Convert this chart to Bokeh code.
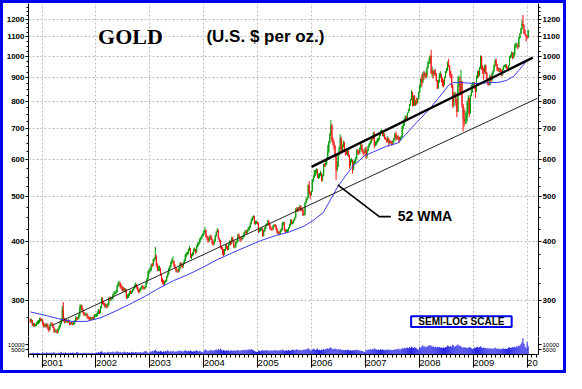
import numpy as np
import pandas as pd
from bokeh.plotting import figure
from bokeh.layouts import column
from bokeh.models import (Range1d, FixedTicker, LogAxis, LinearAxis, Grid, Label,
                          BoxAnnotation, ColumnDataSource)
from bokeh.embed import file_html
from bokeh.resources import INLINE

# ---------------- data (weekly, Fridays, from 2000-10-13) ----------------
FIRST_DATE = "2000-10-13"
first_open = 273

close_2000 = [270, 271, 265,
              266, 265, 265, 267,
              269, 269, 273, 272, 272]
high_2000 = [274, 274, 272,
             268, 268, 267, 269,
             271, 272, 275, 275, 274]
low_2000 = [268, 268, 264,
            263, 263, 263, 264,
            266, 266, 268, 270, 270]

close_2001 = [268, 264, 265, 264,
              266, 262, 259, 264,
              267, 266, 262, 257, 258,
              258, 256, 260, 263,
              268, 272, 286, 273,
              270, 272, 271, 270, 271,
              268, 267, 268, 267,
              267, 270, 275, 273, 274,
              279, 289, 292, 287,
              282, 279, 280, 280,
              277, 275, 273, 275, 274,
              275, 274, 278, 278]
high_2001 = [273, 269, 267, 267,
             268, 267, 263, 266,
             269, 269, 267, 263, 260,
             260, 259, 262, 265,
             270, 274, 292, 297,
             275, 274, 273, 272, 273,
             271, 269, 270, 269,
             269, 272, 277, 276, 276,
             280, 293, 294, 293,
             288, 283, 282, 282,
             281, 278, 276, 277, 276,
             276, 277, 280, 280]
low_2001 = [265, 262, 262, 262,
            262, 259, 256, 258,
            263, 264, 261, 255, 256,
            255, 254, 255, 259,
            262, 266, 270, 270,
            267, 268, 269, 268, 268,
            265, 265, 266, 265,
            265, 266, 269, 271, 272,
            273, 276, 285, 285,
            280, 277, 277, 278,
            274, 273, 271, 272, 272,
            272, 272, 273, 276]

close_2002 = [279, 281, 285, 282,
              289, 302, 296, 294,
              292, 292, 291, 293, 302,
              301, 302, 302, 308,
              310, 311, 312, 321, 326,
              326, 321, 320, 315,
              318, 314, 315, 304,
              305, 307, 312, 311, 312,
              315, 318, 322, 323,
              320, 315, 312, 316,
              318, 321, 319, 318, 320,
              326, 333, 345, 347]
high_2002 = [281, 284, 287, 286,
             291, 304, 304, 298,
             296, 295, 294, 296, 304,
             305, 305, 305, 310,
             313, 314, 315, 323, 328,
             330, 328, 324, 322,
             320, 319, 318, 317,
             309, 310, 314, 315, 314,
             317, 320, 324, 327,
             325, 321, 317, 318,
             320, 323, 323, 320, 322,
             328, 335, 347, 350]
low_2002 = [276, 277, 280, 280,
            281, 288, 294, 292,
            289, 289, 288, 289, 292,
            298, 299, 300, 301,
            306, 308, 309, 311, 320,
            322, 318, 316, 313,
            313, 312, 311, 302,
            302, 303, 306, 309, 309,
            311, 314, 317, 319,
            317, 313, 310, 311,
            314, 317, 316, 316, 316,
            318, 325, 332, 341]

close_2003 = [348, 357, 356, 366, 368,
              372, 357, 350, 350,
              350, 340, 331, 330,
              327, 327, 330, 336,
              341, 350, 353, 361, 363,
              364, 356, 353, 347,
              348, 346, 352, 360,
              357, 354, 360, 365, 375,
              377, 378, 384, 388,
              372, 375, 377, 384, 386,
              380, 391, 395, 398,
              405, 408, 412, 415]
high_2003 = [352, 359, 360, 368, 370,
             390, 375, 360, 355,
             356, 352, 342, 334,
             331, 330, 332, 338,
             344, 352, 356, 363, 368,
             372, 365, 358, 352,
             351, 349, 354, 362,
             361, 359, 362, 367, 377,
             380, 381, 387, 392,
             388, 377, 380, 387, 389,
             386, 393, 398, 400,
             407, 410, 414, 418]
low_2003 = [344, 346, 353, 355, 363,
            366, 354, 346, 346,
            346, 338, 328, 325,
            322, 323, 326, 329,
            335, 340, 348, 352, 358,
            360, 354, 350, 344,
            344, 343, 344, 349,
            354, 351, 352, 358, 364,
            370, 374, 376, 382,
            369, 367, 372, 374, 381,
            376, 379, 389, 392,
            396, 402, 405, 410]

close_2004 = [420, 423, 410, 409, 401,
              405, 411, 405, 397,
              396, 401, 412, 420,
              423, 407, 403, 390, 388,
              383, 377, 383, 393,
              390, 385, 395, 400,
              396, 408, 402, 391, 391,
              399, 401, 414, 410,
              406, 405, 409, 410,
              418, 421, 418, 424, 425,
              430, 437, 446, 451,
              454, 438, 440, 441, 438]
high_2004 = [424, 430, 425, 413, 412,
             409, 414, 414, 407,
             401, 405, 414, 422,
             428, 425, 408, 404, 392,
             390, 386, 386, 395,
             396, 392, 397, 403,
             402, 410, 410, 403, 394,
             402, 404, 416, 417,
             411, 408, 411, 414,
             420, 424, 423, 426, 430,
             433, 440, 448, 453,
             456, 455, 444, 444, 442]
low_2004 = [413, 418, 408, 404, 398,
            400, 403, 404, 395,
            392, 394, 400, 410,
            419, 405, 399, 387, 385,
            375, 372, 375, 382,
            386, 383, 384, 393,
            393, 395, 400, 388, 387,
            389, 396, 400, 408,
            400, 401, 403, 406,
            409, 416, 415, 416, 421,
            423, 428, 436, 443,
            448, 436, 435, 437, 435]

close_2005 = [422, 424, 425, 427,
              412, 422, 427, 433,
              436, 443, 437, 428,
              427, 425, 432, 435, 434,
              426, 418, 419, 417,
              422, 424, 438, 439,
              424, 421, 421, 424, 428,
              433, 445, 438, 440,
              445, 450, 470, 466, 473,
              469, 477, 467, 470,
              456, 458, 485, 493,
              498, 529, 510, 505, 513]
high_2005 = [440, 427, 428, 429,
             428, 424, 430, 436,
             439, 446, 445, 438,
             432, 429, 434, 437, 437,
             435, 428, 422, 421,
             425, 428, 441, 442,
             441, 426, 425, 426, 430,
             437, 447, 447, 443,
             447, 452, 472, 474, 475,
             475, 480, 478, 474,
             472, 461, 487, 496,
             500, 531, 540, 512, 515]
low_2005 = [418, 419, 421, 423,
            410, 411, 420, 425,
            432, 435, 433, 425,
            423, 422, 424, 430, 430,
            423, 416, 414, 413,
            415, 420, 423, 434,
            421, 417, 418, 419, 421,
            427, 432, 436, 436,
            438, 444, 450, 464, 464,
            464, 468, 465, 465,
            455, 454, 457, 483,
            490, 496, 505, 494, 502]

close_2006 = [542, 548, 567, 568,
              572, 550, 554, 558,
              562, 545, 555, 586, 583,
              589, 600, 625, 654,
              680, 711, 662, 652,
              643, 610, 570, 580, 616,
              634, 666, 625, 640,
              652, 630, 622, 620,
              626, 614, 584, 598, 599,
              575, 591, 595, 604,
              628, 624, 621, 636,
              646, 629, 624, 621, 632]
high_2006 = [545, 555, 570, 571,
             575, 573, 560, 562,
             568, 563, 558, 588, 590,
             600, 607, 645, 658,
             684, 730, 715, 670,
             660, 645, 620, 595, 617,
             640, 680, 672, 647,
             660, 656, 632, 628,
             630, 627, 615, 602, 605,
             600, 596, 600, 608,
             632, 632, 628, 638,
             650, 648, 633, 625, 636]
low_2006 = [515, 537, 548, 553,
            560, 548, 545, 548,
            553, 538, 540, 553, 578,
            580, 585, 600, 620,
            650, 675, 655, 643,
            630, 605, 543, 566, 578,
            612, 632, 618, 622,
            638, 625, 612, 614,
            612, 608, 574, 580, 592,
            560, 570, 587, 590,
            602, 617, 614, 618,
            630, 624, 616, 612, 619]

close_2007 = [612, 627, 640, 648,
              653, 666, 665, 684,
              645, 653, 655, 663, 664,
              677, 690, 692, 676,
              677, 670, 665, 656,
              664, 653, 658, 654, 650,
              658, 667, 682, 667,
              673, 670, 659, 670, 672,
              708, 711, 732, 743,
              740, 756, 763, 788,
              807, 834, 783, 822, 784,
              798, 795, 812, 838]
high_2007 = [640, 630, 643, 651,
             658, 670, 672, 687,
             690, 657, 660, 668, 669,
             680, 694, 697, 693,
             686, 684, 671, 664,
             674, 669, 662, 659, 657,
             660, 669, 685, 690,
             677, 677, 672, 672, 676,
             709, 718, 737, 747,
             744, 757, 770, 789,
             810, 845, 840, 824, 826,
             806, 815, 814, 840]
low_2007 = [603, 604, 625, 637,
            643, 650, 659, 663,
            636, 641, 644, 650, 656,
            661, 674, 686, 674,
            672, 663, 661, 652,
            654, 640, 648, 650, 642,
            648, 653, 663, 660,
            661, 662, 651, 657, 663,
            671, 698, 709, 728,
            725, 733, 755, 763,
            784, 805, 781, 785, 783,
            785, 787, 792, 810]

close_2008 = [866, 893, 880, 916,
              910, 920, 906, 944, 972,
              975, 1001, 919, 930,
              915, 926, 916, 888,
              854, 881, 912, 912, 885,
              878, 867, 903, 928,
              933, 962, 955, 927,
              913, 862, 785, 828, 832,
              796, 760, 866, 885,
              834, 885, 785, 735, 725,
              732, 743, 798, 813,
              753, 823, 837, 872]
high_2008 = [870, 900, 915, 925,
             930, 928, 922, 950, 975,
             992, 1005, 1032, 950,
             935, 935, 940, 920,
             890, 890, 920, 928, 918,
             900, 892, 905, 930,
             945, 975, 988, 950,
             930, 915, 870, 835, 840,
             835, 810, 905, 910,
             902, 935, 870, 790, 775,
             765, 757, 802, 825,
             815, 826, 870, 880]
low_2008 = [833, 855, 860, 875,
            890, 900, 895, 900, 942,
            963, 962, 915, 900,
            895, 910, 908, 882,
            850, 852, 878, 898, 879,
            862, 857, 873, 897,
            921, 930, 948, 905,
            898, 855, 775, 778, 822,
            783, 740, 775, 862,
            823, 830, 775, 690, 706,
            715, 715, 725, 755,
            740, 755, 820, 836]

close_2009 = [878, 856, 842, 900, 925,
              912, 942, 1000, 943,
              940, 929, 955, 921,
              897, 871, 869, 905,
              888, 915, 930, 956, 980,
              960, 937, 933, 938,
              930, 913, 936, 952, 955,
              959, 948, 941, 955,
              994, 1003, 1004, 993,
              1004, 1050, 1055, 1056, 1045,
              1095, 1118, 1143, 1173,
              1163, 1119, 1110, 1104]
high_2009 = [882, 880, 862, 910, 930,
             932, 948, 1005, 1000,
             955, 945, 960, 960,
             925, 900, 878, 913,
             910, 922, 935, 960, 985,
             990, 962, 947, 945,
             945, 935, 940, 955, 959,
             962, 960, 950, 958,
             1000, 1010, 1024, 1020,
             1020, 1062, 1068, 1070, 1065,
             1100, 1120, 1150, 1195,
             1226, 1170, 1140, 1115]
low_2009 = [865, 850, 813, 838, 895,
            900, 906, 940, 933,
            915, 890, 918, 915,
            891, 866, 865, 865,
            880, 883, 910, 927, 950,
            952, 930, 925, 924,
            925, 905, 908, 933, 947,
            945, 940, 936, 935,
            954, 990, 995, 985,
            990, 1005, 1040, 1046, 1035,
            1044, 1090, 1115, 1140,
            1158, 1116, 1108, 1075]

close_2010 = [1097, 1138]
high_2010 = [1105, 1140]
low_2010 = [1090, 1095]

# weekly volume, thousands of contracts
vol_2000 = [1.5, 1.2, 1.8, 1.4, 1.1, 1.6, 1.3, 1.9, 1.5, 1.2, 1.0, 0.9]
vol_2001 = [2.4, 1.3, 1.8, 1.1, 2.2, 1.5, 1.9, 1.2, 2.0, 1.4, 1.7, 2.6, 1.3,
            1.6, 1.1, 1.9, 1.4, 2.1, 2.8, 1.5, 1.8, 1.2, 2.3, 1.6, 1.3, 1.9,
            1.2, 1.7, 1.4, 2.0, 1.5, 1.8, 1.1, 2.5, 2.2, 1.6, 1.3, 1.8, 1.5,
            1.2, 2.0, 1.4, 1.7, 1.3, 1.9, 1.6, 1.2, 1.8, 1.4, 1.1, 1.5, 1.0]
vol_2002 = [2.1, 1.6, 2.5, 1.8, 2.9, 3.3, 2.0, 1.7, 2.4, 1.9, 1.5, 2.8, 2.2,
            1.8, 2.6, 2.0, 3.1, 2.3, 1.9, 2.7, 3.4, 2.5, 2.0, 2.9, 1.8, 2.4,
            2.1, 3.0, 2.2, 1.7, 2.5, 1.9, 2.3, 1.6, 2.8, 2.1, 2.4, 1.8, 2.6,
            2.0, 2.3, 1.7, 2.2, 2.5, 1.9, 2.1, 2.7, 3.2, 3.6, 2.4, 1.8, 1.5]
vol_2003 = [3.2, 2.6, 3.8, 3.0, 4.1, 4.8, 3.5, 2.9, 3.3, 2.7, 3.9, 3.1, 2.5,
            3.4, 2.8, 3.6, 3.0, 4.2, 3.3, 2.7, 3.5, 2.9, 3.8, 3.1, 2.6, 3.4,
            2.9, 3.7, 3.2, 4.0, 3.5, 2.8, 3.3, 3.9, 4.4, 3.6, 3.0, 3.8, 3.2,
            4.1, 3.4, 2.9, 3.6, 3.1, 3.9, 4.3, 3.5, 3.0, 3.7, 3.3, 2.6, 2.2]
vol_2004 = [3.6, 4.5, 5.2, 3.9, 3.3, 4.1, 3.7, 4.8, 3.5, 4.2, 3.9, 4.6, 5.1,
            4.0, 5.6, 4.4, 6.2, 4.9, 3.8, 4.5, 4.1, 3.6, 4.3, 3.9, 4.7, 3.4,
            3.8, 4.2, 3.5, 4.0, 3.7, 4.4, 3.9, 4.6, 4.1, 3.6, 4.3, 4.0, 4.8,
            4.5, 4.1, 5.0, 4.3, 4.7, 5.3, 4.6, 5.5, 4.9, 4.2, 3.6, 3.1, 2.7, 2.5]
vol_2005 = [4.1, 3.7, 3.4, 4.0, 4.6, 3.9, 4.3, 3.8, 4.5, 4.0, 3.6, 4.2, 3.9,
            4.4, 3.7, 4.1, 4.8, 3.9, 4.3, 3.6, 4.0, 4.5, 3.8, 5.1, 4.2, 3.7,
            4.0, 4.4, 3.9, 4.7, 4.1, 3.8, 4.6, 5.0, 4.3, 4.9, 4.4, 5.3, 4.6,
            4.1, 4.8, 4.3, 4.0, 4.5, 5.2, 4.7, 5.6, 5.0, 6.3, 5.4, 4.2, 3.5]
vol_2006 = [5.0, 5.8, 5.3, 4.7, 5.2, 6.0, 4.6, 4.9, 4.4, 5.1, 4.7, 5.5, 4.8,
            5.3, 5.9, 6.4, 5.6, 6.8, 7.1, 6.0, 5.2, 5.5, 6.2, 5.7, 4.9, 5.3,
            4.8, 5.6, 4.4, 4.9, 4.5, 4.2, 4.7, 4.3, 5.0, 4.6, 4.1, 4.5, 3.9,
            4.4, 4.0, 4.7, 4.3, 4.8, 4.2, 4.6, 4.1, 3.8, 3.5, 3.2, 2.9, 2.6]
vol_2007 = [4.5, 4.1, 5.0, 4.6, 5.3, 4.8, 5.6, 4.9, 6.3, 5.4, 5.0, 4.7, 5.2,
            4.6, 5.1, 4.8, 5.4, 4.5, 4.9, 4.4, 4.8, 5.2, 4.6, 5.0, 4.3, 4.7,
            4.4, 5.0, 4.6, 5.5, 4.9, 6.2, 5.3, 4.8, 5.6, 6.4, 5.9, 6.8, 6.1,
            6.6, 7.0, 6.3, 7.4, 6.7, 8.2, 7.1, 6.5, 7.3, 6.8, 6.0, 5.4, 4.8]
vol_2008 = [7.5, 6.8, 8.1, 9.3, 7.6, 8.4, 7.2, 8.0, 9.1, 8.5, 9.6, 8.8, 7.9,
            8.3, 7.5, 8.0, 7.2, 7.8, 7.0, 7.5, 6.9, 7.3, 6.6, 7.1, 6.8, 7.4,
            8.0, 9.2, 8.4, 7.8, 8.6, 7.5, 9.8, 8.9, 7.6, 8.7, 9.4, 10.2, 8.8,
            9.0, 8.1, 7.3, 6.8, 7.5, 6.6, 7.0, 6.4, 6.9, 7.7, 7.1, 6.3, 5.6]
vol_2009 = [6.2, 7.0, 6.5, 7.4, 7.9, 6.8, 7.6, 8.5, 7.2, 6.6, 7.1, 6.3, 6.9,
            5.8, 6.4, 5.9, 6.6, 5.5, 6.1, 5.7, 6.3, 6.8, 6.0, 5.6, 6.2, 5.4,
            5.9, 5.3, 5.8, 6.4, 5.7, 6.2, 5.5, 6.0, 6.9, 7.3, 6.5, 7.0, 7.6,
            7.1, 8.0, 7.4, 8.3, 7.8, 9.1, 8.6, 10.4, 12.5, 16.5, 11.0, 7.8, 6.0]
vol_2010 = [12.8, 8.5]

# 52-week weighted moving average
wma_dates = ["2000-10-13", "2001-01-07", "2001-04-15", "2001-07-23", "2001-10-29",
             "2002-02-04", "2002-05-13", "2002-08-19", "2002-11-25",
             "2003-03-03", "2003-06-09", "2003-09-15", "2003-12-22",
             "2004-03-30", "2004-07-06", "2004-10-13",
             "2005-01-19", "2005-04-28", "2005-08-04", "2005-11-10",
             "2006-01-14", "2006-03-21", "2006-05-06", "2006-06-27", "2006-10-03", "2006-12-27",
             "2007-03-29", "2007-06-02", "2007-08-07", "2007-09-28", "2007-12-15",
             "2008-03-10", "2008-06-04", "2008-07-19", "2008-08-21", "2008-10-13",
             "2009-01-12", "2009-04-08", "2009-07-01", "2009-08-16", "2009-10-01",
             "2009-11-09", "2009-12-12", "2010-01-01"]
wma_values = [283, 279, 274, 270, 270,
              275, 284, 294, 305,
              318, 330, 340, 352,
              366, 378, 390,
              402, 412, 420, 432,
              445, 462, 490, 525, 579, 612,
              630, 643, 651, 678, 722,
              770, 832, 868, 878, 878,
              874, 877, 880, 888, 905,
              935, 962, 980]

# trend lines (date, price)
thin_trend_dates = ["2001-03-13", "2010-03-13"]
thin_trend_values = [265, 813]
thick_trend_dates = ["2006-01-01", "2010-02-09"]
thick_trend_values = [579, 993]

price_ticks = [300, 400, 500, 600, 700, 800, 900, 1000, 1100, 1200]
price_minor = [v for v in range(250, 1301, 25) if v not in price_ticks]
year_ticks = list(range(2001, 2011))
year_labels = ["2001", "2002", "2003", "2004", "2005", "2006", "2007", "2008", "2009", "20"]
month_ticks = [y + m / 12 for y in range(2000, 2011) for m in range(12)]
vol_ticks = [5000, 10000]

# ---------------- assemble ----------------
years = [2000, 2001, 2002, 2003, 2004, 2005, 2006, 2007, 2008, 2009, 2010]
C = [close_2000, close_2001, close_2002, close_2003, close_2004, close_2005,
     close_2006, close_2007, close_2008, close_2009, close_2010]
H = [high_2000, high_2001, high_2002, high_2003, high_2004, high_2005,
     high_2006, high_2007, high_2008, high_2009, high_2010]
L = [low_2000, low_2001, low_2002, low_2003, low_2004, low_2005,
     low_2006, low_2007, low_2008, low_2009, low_2010]
V = [vol_2000, vol_2001, vol_2002, vol_2003, vol_2004, vol_2005,
     vol_2006, vol_2007, vol_2008, vol_2009, vol_2010]
for y, c, h, l, v in zip(years, C, H, L, V):
    assert len(c) == len(h) == len(l) == len(v), (y, len(c), len(h), len(l), len(v))

close = sum(C, [])
high = sum(H, [])
low = sum(L, [])
vol = [v * 1000 for v in sum(V, [])]
opn = [first_open] + close[:-1]
high = [max(h, o, c) for h, o, c in zip(high, opn, close)]
low = [min(l, o, c) for l, o, c in zip(low, opn, close)]


def dec_year(d):
    idx = pd.DatetimeIndex(pd.to_datetime(d))
    days = np.where(idx.is_leap_year, 366.0, 365.0)
    return np.asarray(idx.year, dtype=float) + (np.asarray(idx.dayofyear, dtype=float) - 1) / days


dates = pd.date_range(FIRST_DATE, periods=len(close), freq="7D")
x = dec_year(dates)

up = [c >= o for o, c in zip(opn, close)]
def sub(mask):
    return ColumnDataSource(dict(
        x=[xi for xi, m in zip(x, mask) if m],
        hi=[v for v, m in zip(high, mask) if m],
        lo=[v for v, m in zip(low, mask) if m],
        top=[max(o, c) for o, c, m in zip(opn, close, mask) if m],
        bot=[min(o, c) for o, c, m in zip(opn, close, mask) if m]))
src_up = sub(up)
src_dn = sub([not u for u in up])

X0 = dec_year(["2000-10-01"])[0]
X1 = dec_year(["2010-03-19"])[0]

GREEN = "#009a00"
RED = "#ff1010"
BLUE = "#0000f0"
VOLBLUE = "#2a2ae6"
GRID = "#bdbdbd"
FONT = "Liberation Sans"

W = 560
xr = Range1d(X0, X1)

p = figure(width=W, height=333, x_range=xr, y_range=Range1d(250.6, 1297.6),
           y_axis_type="log", x_axis_location=None,
           output_backend="svg", toolbar_location=None,
           min_border_left=21, min_border_right=25, min_border_top=0, min_border_bottom=0)
p.outline_line_color = None
p.background_fill_color = "white"
p.border_fill_color = "white"

price_ticker = FixedTicker(ticks=price_ticks, minor_ticks=price_minor)
year_ticker = FixedTicker(ticks=year_ticks, minor_ticks=month_ticks)

def style_y(ax):
    ax.ticker = price_ticker
    ax.major_label_text_font = FONT
    ax.major_label_text_font_size = "8px"
    ax.major_label_text_font_style = "bold"
    ax.major_label_text_color = "black"
    ax.major_label_standoff = 1
    ax.major_tick_out = 3
    ax.major_tick_in = 0
    ax.minor_tick_out = 2
    ax.minor_tick_in = 0
    ax.axis_line_color = "black"

style_y(p.yaxis[0])
ry = LogAxis()
style_y(ry)
p.add_layout(ry, "right")

p.ygrid.ticker = price_ticker
p.ygrid.grid_line_color = GRID
p.ygrid.grid_line_dash = "2 2"
xg = Grid(dimension=0, ticker=year_ticker, grid_line_color=GRID, grid_line_dash="2 2")
p.add_layout(xg)
for g in p.xgrid:
    if g is not xg:
        g.visible = False

# candles
p.segment(x0="x", y0="lo", x1="x", y1="hi", source=src_up, line_color=GREEN, line_width=1)
p.vbar(x="x", width=0.018, top="top", bottom="bot", source=src_up,
       fill_color=GREEN, line_color=None)
p.segment(x0="x", y0="lo", x1="x", y1="hi", source=src_dn, line_color=RED, line_width=1)
p.vbar(x="x", width=0.018, top="top", bottom="bot", source=src_dn,
       fill_color=RED, line_color=None)

# 52 WMA
p.line(dec_year(wma_dates), wma_values, line_color="#3a3aee", line_width=1)
# trend lines
p.line(dec_year(thin_trend_dates), thin_trend_values, line_color="#222222", line_width=1)
p.line(dec_year(thick_trend_dates), thick_trend_values, line_color="black", line_width=2.4)

# pointer to the WMA
p.line([2006.486, 2007.257, 2007.472], [530, 453, 453], line_color="black", line_width=1.6)
p.add_layout(Label(x=2007.6, y=455, text="52 WMA", text_font=FONT, text_font_style="bold",
                   text_font_size="14px", text_baseline="middle", text_color="black"))

p.add_layout(Label(x=2002.04, y=1104, text="GOLD", text_font="Liberation Serif",
                   text_font_style="bold", text_font_size="22px", text_baseline="middle",
                   text_color="black"))
p.add_layout(Label(x=2004.05, y=1104, text="(U.S. $ per oz.)", text_font=FONT,
                   text_font_style="bold", text_font_size="17px", text_baseline="middle",
                   text_color="black"))

p.add_layout(BoxAnnotation(left=2007.848, right=2009.713, bottom=262.7, top=276.8,
                           fill_color="white", fill_alpha=1.0, line_color=BLUE,
                           line_width=2, line_alpha=1.0))
p.add_layout(Label(x=2008.78, y=269.6, text="SEMI-LOG SCALE", text_font=FONT,
                   text_font_style="bold", text_font_size="10px", text_align="center",
                   text_baseline="middle", text_color="black"))

# ---------------- volume panel ----------------
pv = figure(width=W, height=34, x_range=xr, y_range=Range1d(0, 18300),
            output_backend="svg", toolbar_location=None,
            min_border_left=21, min_border_right=25, min_border_top=0, min_border_bottom=14)
pv.outline_line_color = None
pv.vbar(x=x, top=vol, width=0.0195, fill_color=VOLBLUE, line_color=None)

vol_ticker = FixedTicker(ticks=vol_ticks, minor_ticks=[])
def style_v(ax):
    ax.ticker = vol_ticker
    ax.major_label_text_font = FONT
    ax.major_label_text_font_size = "6px"
    ax.major_label_text_color = "black"
    ax.major_label_standoff = 1
    ax.major_tick_out = 3
    ax.major_tick_in = 0
    ax.minor_tick_out = 0
    ax.axis_line_color = "black"
style_v(pv.yaxis[0])
rv = LinearAxis()
style_v(rv)
pv.add_layout(rv, "right")
pv.ygrid.visible = False

# year labels sit to the right of their tick: pad the centred label with
# non-breaking spaces as wide as the label itself
NBSP = "\u00a0"
xa = pv.xaxis[0]
xa.ticker = year_ticker
xa.major_label_overrides = {t: NBSP * (2 * len(s)) + s for t, s in zip(year_ticks, year_labels)}
xa.major_label_text_font = FONT
xa.major_label_text_font_size = "9.5px"
xa.major_label_text_color = "black"
xa.major_tick_out = 13
xa.major_tick_in = 0
xa.minor_tick_out = 3
xa.minor_tick_in = 0
xa.major_label_standoff = -11
xa.axis_line_color = "black"
pv.xgrid.ticker = year_ticker
pv.xgrid.grid_line_color = GRID
pv.xgrid.grid_line_dash = "2 2"

layout = column(p, pv, spacing=0, styles={"border": "3px solid " + BLUE})

open("out.html", "w").write(file_html(layout, INLINE))
